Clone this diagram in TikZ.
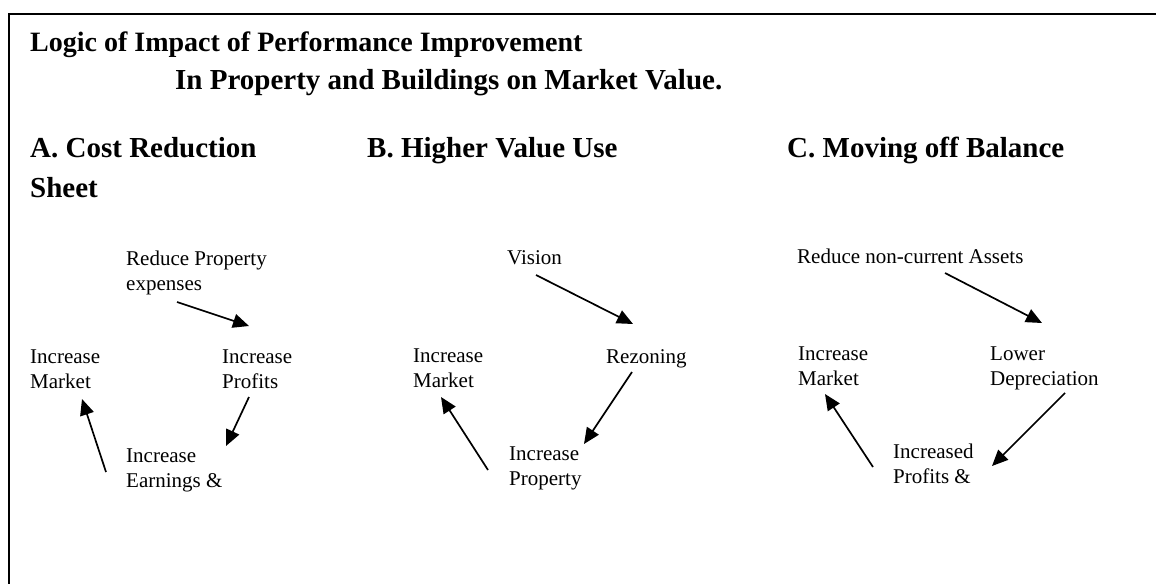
\documentclass[tikz,border=0pt]{standalone}
\usepackage{fontspec}
\setmainfont{Liberation Serif}
\usetikzlibrary{arrows.meta}

% two-line labels are placed by the baseline of their last line
\tikzset{
  heading/.style={anchor=base west, inner sep=0pt, align=left,
    font=\fontsize{29}{36}\selectfont\bfseries},
  label/.style={anchor=base west, inner sep=0pt, align=left,
    font=\fontsize{21}{24.5}\selectfont},
  flow/.style={line width=1.7pt, -{Triangle[length=16pt,width=14pt]}},
  frame/.style={line width=1.4pt}
}

\begin{document}
\begin{tikzpicture}[x=1pt,y=-1pt]
  \useasboundingbox (0,0) rectangle (1156,584);

  % open frame: top and left edges
  \coordinate (fTR) at (1156,14);
  \coordinate (fTL) at (9,14);
  \coordinate (fBL) at (9,584);
  \draw[frame] (fTR) -- (fTL) -- (fBL);

  % title
  \node[heading, font=\fontsize{28}{36}\selectfont\bfseries] (t1) at (30,51)
    {Logic of Impact of Performance Improvement};
  \node[heading] (t2) at (175,89) {In Property and Buildings on Market Value.};

  % section headings
  \node[heading] (hA) at (30,157) {A. Cost Reduction};
  \node[heading] (hA2) at (30,197) {Sheet};
  \node[heading] (hB) at (367,157) {B. Higher Value Use};
  \node[heading] (hC) at (787,157) {C. Moving off Balance};

  % A. cost reduction cycle
  \node[label] (aTop) at (126,290) {Reduce Property\\expenses};
  \node[label] (aLeft) at (30,388) {Increase\\Market};
  \node[label] (aRight) at (222,388) {Increase\\Profits};
  \node[label] (aBot) at (126,487) {Increase\\Earnings \&};
  \coordinate (a1s) at (177,302); \coordinate (a1e) at (249,326);
  \coordinate (a2s) at (249,397); \coordinate (a2e) at (226,446);
  \coordinate (a3s) at (106,472); \coordinate (a3e) at (82,399);
  \draw[flow] (a1s) -- (a1e);
  \draw[flow] (a2s) -- (a2e);
  \draw[flow] (a3s) -- (a3e);

  % B. higher value use cycle
  \node[label] (bTop) at (507,264) {Vision};
  \node[label] (bLeft) at (413,387) {Increase\\Market};
  \node[label] (bRight) at (606,363) {Rezoning};
  \node[label] (bBot) at (509,485) {Increase\\Property};
  \coordinate (b1s) at (536,275); \coordinate (b1e) at (633,324);
  \coordinate (b2s) at (632,372); \coordinate (b2e) at (584,444);
  \coordinate (b3s) at (488,470); \coordinate (b3e) at (441,397);
  \draw[flow] (b1s) -- (b1e);
  \draw[flow] (b2s) -- (b2e);
  \draw[flow] (b3s) -- (b3e);

  % C. moving off balance cycle
  \node[label] (cTop) at (797,263) {Reduce non-current Assets};
  \node[label] (cLeft) at (798,385) {Increase\\Market};
  \node[label] (cRight) at (990,385) {Lower\\Depreciation};
  \node[label] (cBot) at (893,483) {Increased\\Profits \&};
  \coordinate (c1s) at (945,273); \coordinate (c1e) at (1042,323);
  \coordinate (c2s) at (1065,393); \coordinate (c2e) at (992,466);
  \coordinate (c3s) at (873,467); \coordinate (c3e) at (825,394);
  \draw[flow] (c1s) -- (c1e);
  \draw[flow] (c2s) -- (c2e);
  \draw[flow] (c3s) -- (c3e);
\end{tikzpicture}
\end{document}
